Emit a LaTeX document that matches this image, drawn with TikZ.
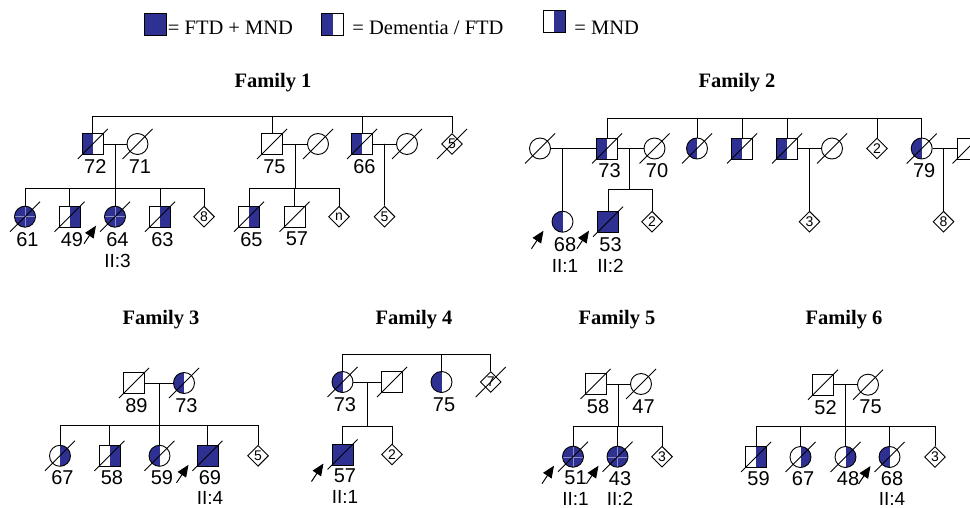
\documentclass[tikz,border=0pt]{standalone}
\usepackage{fontspec}
\setmainfont{Liberation Serif}
\setsansfont{Liberation Sans}
\usetikzlibrary{shapes.geometric,calc,arrows.meta}
\definecolor{fblue}{RGB}{46,49,146}
\begin{document}
\begin{tikzpicture}[x=1pt,y=-1pt,line width=0.9pt,
  base/.style={draw=black,line width=0.9pt,inner sep=0pt,minimum size=21pt},
  sq/.style={base,rectangle},
  ci/.style={base,circle},
  di/.style={draw=black,line width=0.9pt,diamond,aspect=1,inner sep=0pt,minimum width=21pt,minimum height=21pt,font=\sffamily\fontsize{14}{14}\selectfont},
  full/.style={fill=fblue},
  fullc/.style={fill=fblue,path picture={\draw[fblue!55!white,line width=0.4pt] (path picture bounding box.west) -- (path picture bounding box.east) (path picture bounding box.north) -- (path picture bounding box.south);}},
  lhalf/.style={path picture={\fill[fblue] (path picture bounding box.south west) rectangle (path picture bounding box.north);}},
  rhalf/.style={path picture={\fill[fblue] (path picture bounding box.south) rectangle (path picture bounding box.north east);}},
  lab/.style={font=\sffamily\fontsize{20}{20}\selectfont,inner sep=0pt},
  idlab/.style={font=\sffamily\fontsize{19}{19}\selectfont,inner sep=0pt},
  legtext/.style={font=\fontsize{20.5}{24}\selectfont,inner sep=0pt,anchor=base west},
  famtitle/.style={font=\bfseries\fontsize{20.5}{24}\selectfont,inner sep=0pt,anchor=base},
  proband/.style={line width=1pt,-{Triangle[length=12pt,width=10pt]}}
]
\useasboundingbox (0,0) rectangle (970,508);
\clip (0,0) rectangle (970,508);

% ---------- legend ----------
\node[sq,minimum size=22pt,full] (lg1) at (155,24.5) {};
\node[legtext] (lg1t) at (167.5,34.3) {= FTD + MND};
\node[sq,minimum size=22pt,lhalf] (lg2) at (332.5,24.5) {};
\node[legtext] (lg2t) at (352,34.3) {= Dementia / FTD};
\node[sq,minimum size=22pt,rhalf] (lg3) at (554,21) {};
\node[legtext] (lg3t) at (574,34.3) {= MND};

% ---------- titles ----------
\node[famtitle] (fam1) at (273,88) {Family 1};
\node[famtitle] (fam2) at (737,88) {Family 2};
\node[famtitle] (fam3) at (161,324) {Family 3};
\node[famtitle] (fam4) at (414,324) {Family 4};
\node[famtitle] (fam5) at (617,324) {Family 5};
\node[famtitle] (fam6) at (844,324) {Family 6};

% ---------- Family 1 ----------
\node[sq,lhalf] (a1) at (92.8,144) {};
\node[ci] (a2) at (137.5,144) {};
\node[sq] (a3) at (272,144) {};
\node[ci] (a4) at (318,144) {};
\node[sq,lhalf] (a5) at (362,144) {};
\node[ci] (a6) at (407,144) {};
\node[di] (a7) at (452,144) {5};
\node[ci,fullc] (b1) at (25,216.7) {};
\node[sq,rhalf] (b2) at (69.5,216.7) {};
\node[ci,fullc] (b3) at (115,216.7) {};
\node[sq,rhalf] (b4) at (160,216.7) {};
\node[di] (b5) at (204,216.7) {8};
\node[sq,rhalf] (b6) at (249,216.7) {};
\node[sq] (b7) at (294.5,216.7) {};
\node[di] (b8) at (339,216.7) {n};
\node[di] (b9) at (384.5,216.7) {5};
\coordinate (t1) at (0,116);
\coordinate (s1) at (0,188);
\draw (a1.north) -- (a1.north |- t1) -- (a7.north |- t1) -- (a7.north);
\draw (a3.north) -- (a3.north |- t1);
\draw (a5.north) -- (a5.north |- t1);
\draw (a1.east) -- (a2.west);
\draw (a3.east) -- (a4.west);
\draw (a5.east) -- (a6.west);
\coordinate (m1a) at ($(a1.east)!0.5!(a2.west)$);
\coordinate (m1b) at ($(a3.east)!0.5!(a4.west)$);
\coordinate (m1c) at ($(a5.east)!0.5!(a6.west)$);
\draw (m1a) -- (m1a |- s1);
\draw (b1.north) -- (b1.north |- s1) -- (b5.north |- s1) -- (b5.north);
\draw (b2.north) -- (b2.north |- s1);
\draw (b3.north) -- (b3.north |- s1);
\draw (b4.north) -- (b4.north |- s1);
\draw (m1b) -- (m1b |- s1);
\draw (b6.north) -- (b6.north |- s1) -- (b8.north |- s1) -- (b8.north);
\draw (b7.north) -- (b7.north |- s1);
\draw (m1c) -- (b9.north);

% ---------- Family 2 ----------
\node[ci] (c1) at (540,148.5) {};
\node[sq,lhalf] (c2) at (607,148.5) {};
\node[ci] (c3) at (654.5,148.5) {};
\node[ci,lhalf] (c4) at (697,148.5) {};
\node[sq,lhalf] (c5) at (742,148.5) {};
\node[sq,lhalf] (c6) at (787,148.5) {};
\node[ci] (c7) at (832,148.5) {};
\node[di] (c8) at (877,148.5) {2};
\node[ci,lhalf] (c9) at (921.7,148.5) {};
\node[sq] (c10) at (967.5,148.5) {};
\node[ci,lhalf] (d1) at (562.5,221.7) {};
\node[sq,full] (d2) at (608,221.7) {};
\node[di] (d3) at (652,221.7) {2};
\node[di] (d4) at (809.5,221.7) {3};
\node[di] (d5) at (943.5,221.7) {8};
\coordinate (t2) at (0,118);
\coordinate (s2) at (0,189);
\draw (c2.north) -- (c2.north |- t2) -- (c9.north |- t2) -- (c9.north);
\draw (c4.north) -- (c4.north |- t2);
\draw (c5.north) -- (c5.north |- t2);
\draw (c6.north) -- (c6.north |- t2);
\draw (c8.north) -- (c8.north |- t2);
\draw (c1.east) -- (c2.west);
\draw (c2.east) -- (c3.west);
\draw (c6.east) -- (c7.west);
\draw (c9.east) -- (c10.west);
\coordinate (m2a) at (d1.north |- c1.center);
\coordinate (m2b) at (629.5,148.5);
\coordinate (m2c) at (d4.north |- c6.center);
\coordinate (m2d) at (d5.north |- c9.center);
\draw (m2a) -- (d1.north);
\draw (m2b) -- (m2b |- s2);
\draw (d2.north) -- (d2.north |- s2) -- (d3.north |- s2) -- (d3.north);
\draw (m2c) -- (d4.north);
\draw (m2d) -- (d5.north);

% ---------- Family 3 ----------
\node[sq] (e1) at (134,383) {};
\node[ci,lhalf] (e2) at (184,383) {};
\node[ci,rhalf] (f1) at (60,455.8) {};
\node[sq,rhalf] (f2) at (109.5,455.8) {};
\node[ci,lhalf] (f3) at (159.5,455.8) {};
\node[sq,full] (f4) at (207.5,455.8) {};
\node[di] (f5) at (258,455.8) {5};
\coordinate (s3) at (0,425);
\draw (e1.east) -- (e2.west);
\coordinate (m3) at ($(e1.east)!0.5!(e2.west)$);
\draw (m3) -- (m3 |- s3);
\draw (f1.north) -- (f1.north |- s3) -- (f5.north |- s3) -- (f5.north);
\draw (f2.north) -- (f2.north |- s3);
\draw (f3.north) -- (f3.north |- s3);
\draw (f4.north) -- (f4.north |- s3);

% ---------- Family 4 ----------
\node[ci,lhalf] (g1) at (342.5,382) {};
\node[sq] (g2) at (392,382) {};
\node[ci,lhalf] (g3) at (441.5,382) {};
\node[di] (g4) at (490.7,382) {7};
\node[sq,full] (h1) at (342.5,454.5) {};
\node[di] (h2) at (392,454.5) {2};
\coordinate (t4) at (0,354);
\coordinate (s4) at (0,426.7);
\draw (g1.north) -- (g1.north |- t4) -- (g4.north |- t4) -- (g4.north);
\draw (g3.north) -- (g3.north |- t4);
\draw (g1.east) -- (g2.west);
\coordinate (m4) at ($(g1.east)!0.5!(g2.west)$);
\draw (m4) -- (m4 |- s4);
\draw (h1.north) -- (h1.north |- s4) -- (h2.north |- s4) -- (h2.north);

% ---------- Family 5 ----------
\node[sq] (i1) at (595.5,384) {};
\node[ci] (i2) at (641,384) {};
\node[ci,fullc] (j1) at (573,456.7) {};
\node[ci,fullc] (j2) at (617.5,456.7) {};
\node[di] (j3) at (662,456.7) {3};
\coordinate (s5) at (0,426);
\draw (i1.east) -- (i2.west);
\coordinate (m5) at ($(i1.east)!0.5!(i2.west)$);
\draw (m5) -- (m5 |- s5);
\draw (j1.north) -- (j1.north |- s5) -- (j3.north |- s5) -- (j3.north);
\draw (j2.north) -- (j2.north |- s5);

% ---------- Family 6 ----------
\node[sq] (k1) at (823,384.7) {};
\node[ci] (k2) at (868,384.7) {};
\node[sq,rhalf] (l1) at (756,457) {};
\node[ci,rhalf] (l2) at (800.5,457) {};
\node[ci,rhalf] (l3) at (845.5,457) {};
\node[ci,lhalf] (l4) at (889.5,457) {};
\node[di] (l5) at (935,457) {3};
\coordinate (s6) at (0,426);
\draw (k1.east) -- (k2.west);
\coordinate (m6) at ($(k1.east)!0.5!(k2.west)$);
\draw (m6) -- (m6 |- s6);
\draw (l1.north) -- (l1.north |- s6) -- (l5.north |- s6) -- (l5.north);
\draw (l2.north) -- (l2.north |- s6);
\draw (l3.north) -- (l3.north |- s6);
\draw (l4.north) -- (l4.north |- s6);

% ---------- deceased slashes ----------
\foreach \n in {a1,a2,a3,a4,a5,a6,a7,b1,b2,b3,b4,b6,b7,
                c1,c2,c3,c4,c5,c6,c7,c9,c10,d2,
                e1,e2,f1,f2,f3,f4,g1,g2,g4,h1,i1,i2,j1,j2,k1,k2,l1,l2,l3,l4}
  {\draw ($(\n.center)+(-15,15)$) -- ($(\n.center)+(15,-15)$);}

% ---------- ages ----------
\foreach \n/\t in {a1/72,a2/71,a3/75,a5/66,b1/61,b2/49,b3/64,b4/63,b6/65,b7/57,
                   c2/73,c3/70,c9/79,d1/68,d2/53,
                   e1/89,e2/73,g1/73,g3/75,i1/58,i2/47,k1/52,k2/75}
  {\node[lab] (\n-l) at ($(\n.center)+(2.5,22.5)$) {\t};}
\foreach \n/\t in {f1/67,f2/58,f3/59,f4/69,h1/57,j1/51,j2/43,
                   l1/59,l2/67,l3/48,l4/68}
  {\node[lab] (\n-l) at ($(\n.center)+(2.5,21.5)$) {\t};}

% ---------- proband ids ----------
\foreach \n/\t in {b3/II:3,d1/II:1,d2/II:2}
  {\node[idlab] (\n-id) at ($(\n.center)+(2.5,44)$) {\t};}
\foreach \n/\t in {f4/II:4,h1/II:1,j1/II:1,j2/II:2,l4/II:4}
  {\node[idlab] (\n-id) at ($(\n.center)+(2.5,42)$) {\t};}

% ---------- proband arrows ----------
\foreach \n in {b3,d1,d2,f4,h1,j1,j2,l4}
  {\draw[proband] ($(\n.center)+(-31,27)$) -- ($(\n.center)+(-19,9)$);}
\end{tikzpicture}
\end{document}
